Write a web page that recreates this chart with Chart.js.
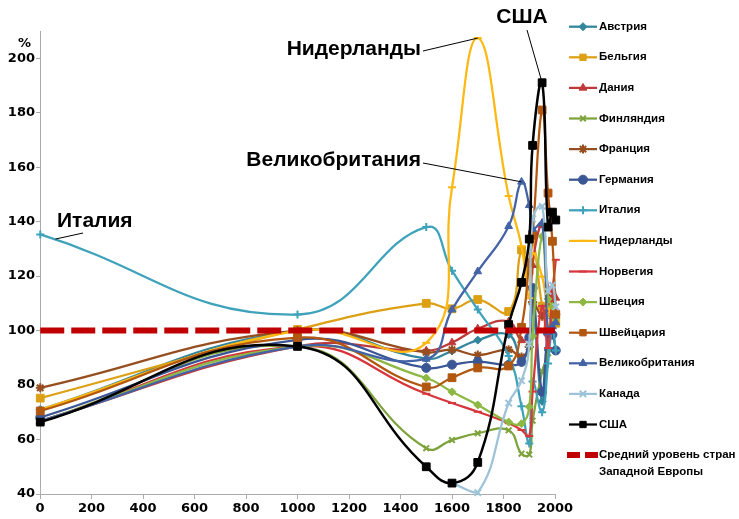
<!DOCTYPE html>
<html>
<head>
<meta charset="utf-8">
<script src="https://cdn.jsdelivr.net/npm/chart.js@4.4.1/dist/chart.umd.min.js"></script>
<style>
    html, body { margin: 0; padding: 0; background: #fff; }
    #wrap { width: 739px; height: 519px; }
</style>
</head>
<body>
<div id="wrap"><canvas id="chart" width="739" height="519"></canvas></div>
<script>
// Benchmark years on the horizontal axis
const years = [1, 1000, 1500, 1600, 1700, 1820, 1870, 1900, 1913, 1950, 1973, 1990, 2003];

// GDP per capita, % of the Western European average
const austria     = [71, 100, 89.7, 92.5, 96.5, 98.5, 89.7, 94.2, 109.8, 74, 92.9, 104.5, 102.8];
const belgium     = [75.2, 100.4, 110, 108, 111.4, 107, 129.6, 122, 133.8, 109, 100.6, 106.4, 102.7];
const denmark     = [66.8, 94.2, 92.6, 95.6, 100.7, 103.3, 96.4, 98.6, 124, 138.7, 115.3, 114, 112];
const finland     = [66.8, 94.2, 56.8, 59.8, 62.3, 63.4, 54.8, 54.5, 66.9, 85, 91.7, 104.3, 103];
const france      = [79, 100, 92, 93, 91, 93, 90.3, 94, 110.5, 105.3, 108.4, 111.9, 105.9];
const germany     = [68.1, 96.6, 86.3, 87.5, 88.6, 87.4, 88.5, 97.5, 115.6, 77.5, 99, 98.5, 92.7];
const italy       = [135.3, 105.9, 138, 122, 107.7, 90.7, 72.2, 58.5, 81.3, 70, 87.9, 100.9, 92.7];
const netherlands = [71, 100, 95.5, 152.6, 207.4, 149.4, 131, 111.9, 128.3, 119.8, 108.2, 106.8, 104];
const norway      = [66.8, 94.2, 76.8, 73.4, 70.2, 66, 63.5, 61.3, 77.6, 109, 93.6, 114, 126];
const sweden      = [66.8, 94.2, 82.6, 77.5, 72.7, 66.4, 65.8, 72, 98, 134.6, 111.6, 108.9, 104.4];
const switzerland = [70.5, 97.4, 79.3, 82.7, 86.3, 87, 101.2, 125, 135, 181, 150.5, 132.8, 106];
const uk          = [66.8, 94.2, 89.6, 107.7, 121.7, 138.3, 154.6, 146, 137.3, 139.5, 99.4, 101.6, 103];
const canada      = [null, null, null, 44, 40.5, 73.4, 81.6, 95, 141, 145.6, 114.4, 116.7, 108.7];
const usa         = [66.4, 94.2, 50, 44, 51.6, 102.2, 117.7, 133.6, 168, 191, 138, 143.5, 140.6];

// Western European average, a flat 100% reference
const averageYears  = [1, 2003];
const averageValues = [100, 100];

// Axis ticks
const xTickValues = [0, 200, 400, 600, 800, 1000, 1200, 1400, 1600, 1800, 2000];
const yTickValues = [40, 60, 80, 100, 120, 140, 160, 180, 200];

// Line / marker look for each country
const seriesStyles = [
    { label: 'Австрия',        values: austria,     color: '#31859C', pointStyle: 'rectRot',  radius: 4 },
    { label: 'Бельгия',        values: belgium,     color: '#DDA015', pointStyle: 'rect',     radius: 5.5 },
    { label: 'Дания',          values: denmark,     color: '#BE3A3A', pointStyle: 'triangle', radius: 4.5 },
    { label: 'Финляндия',      values: finland,     color: '#7EA33C', pointStyle: 'crossRot', radius: 4 },
    { label: 'Франция',        values: france,      color: '#974E1F', pointStyle: 'star',     radius: 4.5 },
    { label: 'Германия',       values: germany,     color: '#3A5695', pointStyle: 'circle',   radius: 4.5 },
    { label: 'Италия',         values: italy,       color: '#3EA2BA', pointStyle: 'cross',    radius: 4 },
    { label: 'Нидерланды',     values: netherlands, color: '#FDB813', pointStyle: 'line',     radius: 4 },
    { label: 'Норвегия',       values: norway,      color: '#D6363C', pointStyle: 'line',     radius: 4 },
    { label: 'Швеция',         values: sweden,      color: '#8DB843', pointStyle: 'rectRot',  radius: 4 },
    { label: 'Швейцария',      values: switzerland, color: '#B2570F', pointStyle: 'rect',     radius: 5.5 },
    { label: 'Великобритания', values: uk,          color: '#4463A6', pointStyle: 'triangle', radius: 4.5 },
    { label: 'Канада',         values: canada,      color: '#9DC3D8', pointStyle: 'crossRot', radius: 4.5 },
    { label: 'США',            values: usa,         color: '#000000', pointStyle: 'rect',     radius: 5.5 }
];

// Callout labels with leader lines pointing to a spot on a series
const callouts = [
    { text: 'Италия',         textX: 57,  textY: 221, align: 'left',   fromX: 83,  fromY: 233, year: 60,   value: 133.6 },
    { text: 'Нидерланды',     textX: 421, textY: 49,  align: 'right',  fromX: 423, fromY: 51,  year: 1700, value: 207.4 },
    { text: 'Великобритания', textX: 421, textY: 160, align: 'right',  fromX: 423, fromY: 163, year: 1870, value: 154.6 },
    { text: 'США',            textX: 522, textY: 17,  align: 'center', fromX: 527, fromY: 30,  year: 1950, value: 191 }
];

const LABEL_FONT = '"Liberation Sans", Arial, sans-serif';

function toPoints(xs, ys) {
    return xs.map((x, i) => ({ x: x, y: ys[i] })).filter(p => p.y !== null);
}

const datasets = seriesStyles.map((s, i) => ({
    label: s.label,
    data: toPoints(years, s.values),
    borderColor: s.color,
    backgroundColor: s.color,
    borderWidth: s.label === 'США' ? 2.5 : 2.25,
    pointStyle: s.pointStyle,
    pointRadius: s.radius,
    pointBackgroundColor: s.color,
    pointBorderColor: s.color,
    pointBorderWidth: (s.pointStyle === 'crossRot' || s.pointStyle === 'cross' ||
                       s.pointStyle === 'star' || s.pointStyle === 'line') ? 2 : 1,
    tension: 0.45,
    clip: 8,
    order: 20 - i
}));

datasets.push({
    label: 'Средний уровень стран Западной Европы',
    legendText: ['Средний уровень стран', 'Западной Европы'],
    data: toPoints(averageYears, averageValues),
    borderColor: '#C00000',
    backgroundColor: '#C00000',
    borderWidth: 6,
    borderDash: [24, 7],
    borderCapStyle: 'butt',
    pointRadius: 0,
    tension: 0,
    order: 0
});

// Legend on the right: line with marker in the middle, bold label
const sideLegend = {
    id: 'sideLegend',
    afterDraw(chart) {
        const ctx = chart.ctx;
        const x0 = 569, x1 = 597, textX = 599;
        const top = 26.7, step = 30.6;
        ctx.save();
        ctx.font = 'bold 11.5px ' + LABEL_FONT;
        ctx.textBaseline = 'middle';
        ctx.textAlign = 'left';
        chart.data.datasets.forEach((ds, i) => {
            const y = top + i * step;
            ctx.strokeStyle = ds.borderColor;
            ctx.fillStyle = ds.borderColor;
            if (ds.borderDash) {
                ctx.lineWidth = 6;
                ctx.beginPath();
                ctx.moveTo(567, y); ctx.lineTo(580, y);
                ctx.moveTo(585, y); ctx.lineTo(598, y);
                ctx.stroke();
            } else {
                ctx.lineWidth = 2.25;
                ctx.beginPath();
                ctx.moveTo(x0, y); ctx.lineTo(x1, y);
                ctx.stroke();
                ctx.lineWidth = ds.pointBorderWidth;
                Chart.helpers.drawPoint(ctx, {
                    pointStyle: ds.pointStyle,
                    radius: Math.min(ds.pointRadius, 4.5),
                    rotation: 0,
                    borderWidth: ds.pointBorderWidth
                }, (x0 + x1) / 2, y);
            }
            ctx.fillStyle = '#000';
            const lines = ds.legendText || [ds.label];
            lines.forEach((t, k) => ctx.fillText(t, textX, y + k * 16.6));
        });
        ctx.restore();
    }
};

// Big country captions and their leader lines, plus the "%" unit label
const calloutLabels = {
    id: 'calloutLabels',
    afterDraw(chart) {
        const { ctx, scales } = chart;
        ctx.save();
        ctx.fillStyle = '#000';
        ctx.strokeStyle = '#000';
        ctx.lineWidth = 1;
        ctx.textBaseline = 'middle';
        ctx.font = 'bold 21px ' + LABEL_FONT;
        callouts.forEach(c => {
            ctx.textAlign = c.align;
            ctx.fillText(c.text, c.textX, c.textY);
            ctx.beginPath();
            ctx.moveTo(c.fromX, c.fromY);
            ctx.lineTo(scales.x.getPixelForValue(c.year), scales.y.getPixelForValue(c.value));
            ctx.stroke();
        });
        ctx.font = 'bold 13px "DejaVu Sans", sans-serif';
        ctx.textAlign = 'right';
        ctx.fillText('%', 31, 44);
        ctx.restore();
    }
};

const axisColor = '#ABABAB';
const tickFont = { family: '"DejaVu Sans", sans-serif', size: 13, weight: 'bold' };
const plainNumber = v => String(v);

new Chart(document.getElementById('chart').getContext('2d'), {
    type: 'line',
    data: { datasets: datasets },
    options: {
        responsive: false,
        animation: false,
        layout: { padding: { top: 31, right: 184, left: 0, bottom: 0 } },
        plugins: {
            legend: { display: false },
            tooltip: { enabled: false }
        },
        scales: {
            x: {
                type: 'linear',
                min: 0,
                max: 2000,
                afterBuildTicks: scale => { scale.ticks = xTickValues.map(v => ({ value: v })); },
                afterFit: scale => { scale.height = 25; },
                grid: { drawOnChartArea: false, drawTicks: true, tickLength: 5, color: axisColor },
                border: { color: axisColor, width: 1 },
                ticks: { color: '#000', font: tickFont, padding: 2, maxRotation: 0, callback: plainNumber }
            },
            y: {
                type: 'linear',
                min: 40,
                max: 210,
                afterBuildTicks: scale => { scale.ticks = yTickValues.map(v => ({ value: v })); },
                afterFit: scale => { scale.width = 40; },
                grid: { drawOnChartArea: false, drawTicks: true, tickLength: 4, color: axisColor },
                border: { color: axisColor, width: 1 },
                ticks: { color: '#000', font: tickFont, padding: 1, callback: plainNumber }
            }
        }
    },
    plugins: [sideLegend, calloutLabels]
});
</script>
</body>
</html>
